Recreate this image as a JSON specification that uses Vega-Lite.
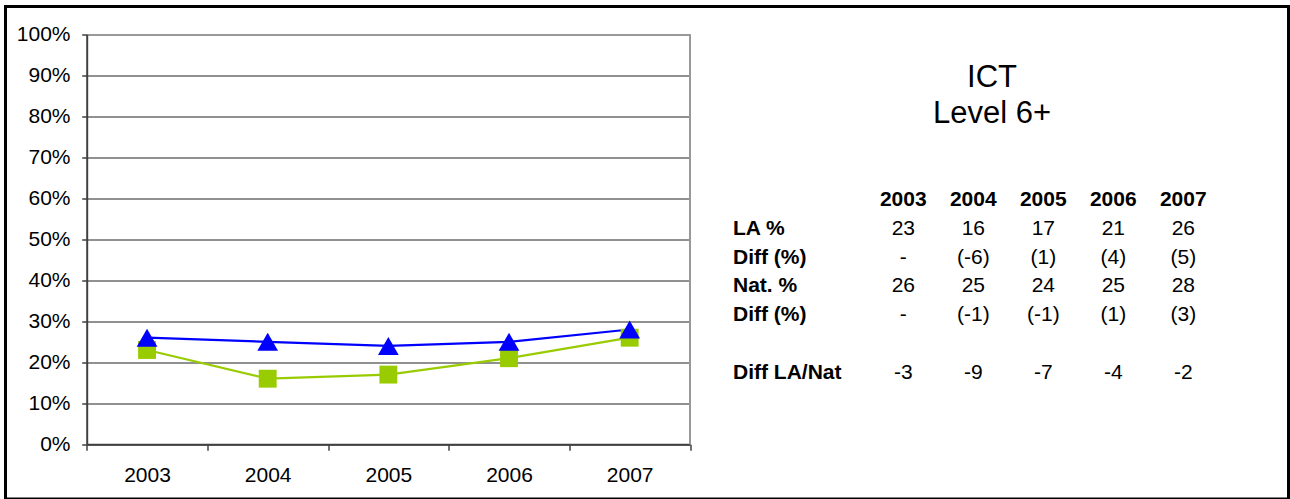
{
  "$schema": "https://vega.github.io/schema/vega-lite/v6.json",
  "width": 1283,
  "height": 492.5,
  "autosize": {"type": "none"},
  "padding": {"left": 5.5, "top": 6.5, "right": 1.5, "bottom": 0},
  "background": "white",
  "config": {
    "view": {"stroke": "black", "strokeWidth": 3},
    "font": "Liberation Sans",
    "text": {"font": "Liberation Sans", "color": "black"}
  },
  "datasets": {
    "series": [
      {"year": "2003", "series": "LA", "value": 23},
      {"year": "2004", "series": "LA", "value": 16},
      {"year": "2005", "series": "LA", "value": 17},
      {"year": "2006", "series": "LA", "value": 21},
      {"year": "2007", "series": "LA", "value": 26},
      {"year": "2003", "series": "Nat", "value": 26},
      {"year": "2004", "series": "Nat", "value": 25},
      {"year": "2005", "series": "Nat", "value": 24},
      {"year": "2006", "series": "Nat", "value": 25},
      {"year": "2007", "series": "Nat", "value": 28}
    ],
    "edge": [
      {"year": "2007", "lo": 0, "hi": 100}
    ],
    "header": [
      {"row": "hdr", "col": "2003", "text": "2003"},
      {"row": "hdr", "col": "2004", "text": "2004"},
      {"row": "hdr", "col": "2005", "text": "2005"},
      {"row": "hdr", "col": "2006", "text": "2006"},
      {"row": "hdr", "col": "2007", "text": "2007"}
    ],
    "cells": [
      {"row": "la", "col": "2003", "text": "23"},
      {"row": "la", "col": "2004", "text": "16"},
      {"row": "la", "col": "2005", "text": "17"},
      {"row": "la", "col": "2006", "text": "21"},
      {"row": "la", "col": "2007", "text": "26"},
      {"row": "d1", "col": "2003", "text": "-"},
      {"row": "d1", "col": "2004", "text": "(-6)"},
      {"row": "d1", "col": "2005", "text": "(1)"},
      {"row": "d1", "col": "2006", "text": "(4)"},
      {"row": "d1", "col": "2007", "text": "(5)"},
      {"row": "nat", "col": "2003", "text": "26"},
      {"row": "nat", "col": "2004", "text": "25"},
      {"row": "nat", "col": "2005", "text": "24"},
      {"row": "nat", "col": "2006", "text": "25"},
      {"row": "nat", "col": "2007", "text": "28"},
      {"row": "d2", "col": "2003", "text": "-"},
      {"row": "d2", "col": "2004", "text": "(-1)"},
      {"row": "d2", "col": "2005", "text": "(-1)"},
      {"row": "d2", "col": "2006", "text": "(1)"},
      {"row": "d2", "col": "2007", "text": "(3)"},
      {"row": "dln", "col": "2003", "text": "-3"},
      {"row": "dln", "col": "2004", "text": "-9"},
      {"row": "dln", "col": "2005", "text": "-7"},
      {"row": "dln", "col": "2006", "text": "-4"},
      {"row": "dln", "col": "2007", "text": "-2"}
    ],
    "labels": [
      {"row": "la", "text": "LA %"},
      {"row": "d1", "text": "Diff (%)"},
      {"row": "nat", "text": "Nat. %"},
      {"row": "d2", "text": "Diff (%)"},
      {"row": "dln", "text": "Diff LA/Nat"}
    ],
    "titles": [
      {"line": "ICT"},
      {"line": "Level 6+"}
    ]
  },
  "layer": [
    {
      "data": {"name": "series"},
      "encoding": {
        "x": {
          "field": "year",
          "type": "nominal",
          "scale": {"type": "band", "range": [81.2, 684.5], "paddingInner": 0, "paddingOuter": 0},
          "axis": {
            "orient": "bottom",
            "offset": -54.7,
            "tickBand": "extent",
            "labelAngle": 0,
            "labelFont": "Liberation Sans",
            "labelFontSize": 21,
            "labelColor": "black",
            "labelBaseline": "middle",
            "labelPadding": 25,
            "tickSize": 6,
            "tickColor": "#404040",
            "tickWidth": 1.5,
            "domainColor": "#404040",
            "domainWidth": 2,
            "grid": false,
            "title": null
          }
        },
        "y": {
          "field": "value",
          "type": "quantitative",
          "scale": {"domain": [0, 100], "range": [437.8, 27.8], "nice": false},
          "axis": {
            "orient": "left",
            "offset": -81.2,
            "values": [0, 10, 20, 30, 40, 50, 60, 70, 80, 90, 100],
            "labelExpr": "datum.value + '%'",
            "labelFont": "Liberation Sans",
            "labelFontSize": 21,
            "labelColor": "black",
            "labelPadding": 11.7,
            "labelFlush": false,
            "labelOverlap": false,
            "tickSize": 5,
            "tickColor": "#404040",
            "tickWidth": 1.5,
            "domainColor": "#404040",
            "domainWidth": 2,
            "grid": true,
            "gridColor": {"condition": {"test": "datum.value === 100", "value": "#999999"}, "value": "#222222"},
            "gridWidth": {"condition": {"test": "datum.value === 100", "value": 2}, "value": 1},
            "title": null
          }
        }
      },
      "layer": [
        {
          "data": {"name": "edge"},
          "mark": {"type": "rule", "color": "#999999", "strokeWidth": 2},
          "encoding": {
            "x": {"field": "year", "type": "nominal", "bandPosition": 1},
            "y": {"field": "lo", "type": "quantitative"},
            "y2": {"field": "hi"}
          }
        },
        {
          "mark": {"type": "line", "strokeWidth": 2.2},
          "encoding": {
            "color": {"field": "series", "type": "nominal", "scale": {"domain": ["LA", "Nat"], "range": ["#99CC00", "#0000FF"]}, "legend": null}
          }
        },
        {
          "mark": {"type": "point", "filled": true, "opacity": 1},
          "encoding": {
            "color": {"field": "series", "type": "nominal", "scale": {"domain": ["LA", "Nat"], "range": ["#99CC00", "#0000FF"]}, "legend": null},
            "shape": {"field": "series", "type": "nominal", "scale": {"domain": ["LA", "Nat"], "range": ["square", "triangle-up"]}, "legend": null},
            "size": {"field": "series", "type": "nominal", "scale": {"domain": ["LA", "Nat"], "range": [320, 430]}, "legend": null}
          }
        }
      ]
    },
    {
      "layer": [
        {
          "data": {"name": "labels"},
          "mark": {"type": "text", "align": "left", "baseline": "middle", "fontSize": 21, "fontWeight": "bold", "font": "Liberation Sans"},
          "encoding": {
            "x": {"datum": "lbl", "type": "nominal", "scale": {"type": "point", "domain": ["lbl"], "range": [727.5, 727.5], "padding": 0}, "axis": null},
            "y": {"field": "row", "type": "nominal", "scale": {"type": "point", "domain": ["hdr", "la", "d1", "nat", "d2", "gap", "dln"], "range": [193.8, 366], "padding": 0}, "axis": null},
            "text": {"field": "text"}
          }
        },
        {
          "data": {"name": "header"},
          "mark": {"type": "text", "align": "center", "baseline": "middle", "fontSize": 21, "fontWeight": "bold", "font": "Liberation Sans"},
          "encoding": {
            "x": {"field": "col", "type": "nominal", "scale": {"type": "point", "domain": ["2003", "2004", "2005", "2006", "2007"], "range": [897.8, 1177.8], "padding": 0}, "axis": null},
            "y": {"field": "row", "type": "nominal", "scale": {"type": "point", "domain": ["hdr", "la", "d1", "nat", "d2", "gap", "dln"], "range": [193.8, 366], "padding": 0}, "axis": null},
            "text": {"field": "text"}
          }
        },
        {
          "data": {"name": "cells"},
          "mark": {"type": "text", "align": "center", "baseline": "middle", "fontSize": 21, "font": "Liberation Sans"},
          "encoding": {
            "x": {"field": "col", "type": "nominal", "scale": {"type": "point", "domain": ["2003", "2004", "2005", "2006", "2007"], "range": [897.8, 1177.8], "padding": 0}, "axis": null},
            "y": {"field": "row", "type": "nominal", "scale": {"type": "point", "domain": ["hdr", "la", "d1", "nat", "d2", "gap", "dln"], "range": [193.8, 366], "padding": 0}, "axis": null},
            "text": {"field": "text"}
          }
        }
      ],
      "resolve": {"scale": {"x": "independent"}}
    },
    {
      "data": {"name": "titles"},
      "mark": {"type": "text", "align": "center", "baseline": "middle", "fontSize": 31, "font": "Liberation Sans"},
      "encoding": {
        "x": {"datum": "title", "type": "nominal", "scale": {"type": "point", "domain": ["title"], "range": [986.5, 986.5], "padding": 0}, "axis": null},
        "y": {"field": "line", "type": "nominal", "scale": {"type": "point", "domain": ["ICT", "Level 6+"], "range": [71.6, 107.1], "padding": 0}, "axis": null},
        "text": {"field": "line"}
      }
    }
  ],
  "resolve": {"scale": {"x": "independent", "y": "independent"}}
}
